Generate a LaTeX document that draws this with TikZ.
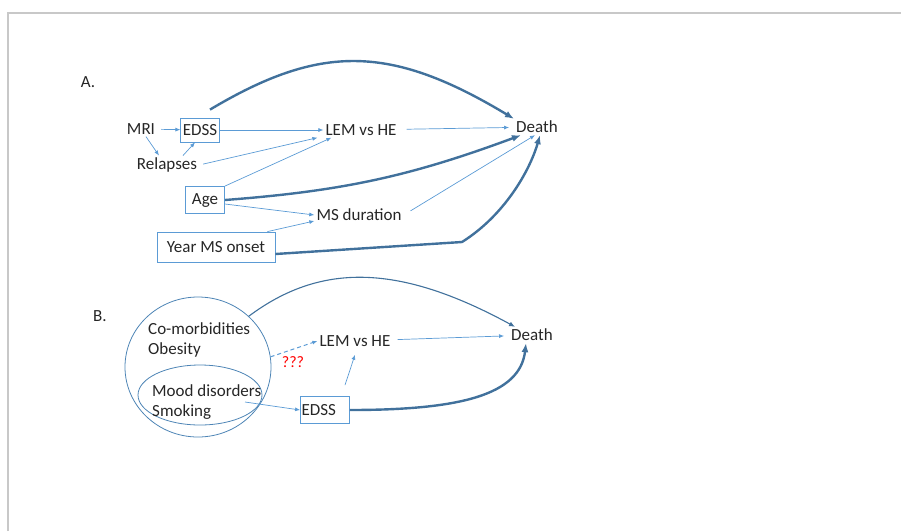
\documentclass[tikz,border=0pt]{standalone}
\usepackage{fontspec}
\setmainfont{Carlito}
\usetikzlibrary{arrows.meta,positioning,shapes.geometric,calc}
\definecolor{lineblue}{HTML}{5B9BD5}
\definecolor{deepblue}{HTML}{41719C}
\definecolor{framegray}{HTML}{C8C8C8}
\begin{document}
\begin{tikzpicture}[x=1pt, y=-1pt,
  font=\fontsize{17}{20}\selectfont, text=black!85,
  lbl/.style={inner sep=2pt, align=left},
  box/.style={draw=lineblue, line width=0.8pt, inner sep=2pt, minimum height=24pt},
  blob/.style={draw=lineblue!85!black, ellipse, line width=0.8pt, inner sep=0pt},
  arr/.style={draw=lineblue, line width=0.7pt, -{Latex[length=5pt,width=4pt]}},
  heavy/.style={draw=deepblue, line width=2.4pt, -{Latex[length=9pt,width=7pt]}},
  mid/.style={draw=deepblue, line width=1.1pt, -{Latex[length=6pt,width=5pt]}}]
  \useasboundingbox (0,0) rectangle (901,531);
  \draw[framegray, line width=2pt] (8,531) -- (8,12.5) -- (901,12.5);
  % A.
  \node[lbl] (tagA) at (88,82) {A.};
  \node[lbl] (mri) at (141,129) {MRI};
  \node[box, minimum width=38pt] (edssA) at (200,130) {EDSS};
  \node[lbl] (relapses) at (167,165) {Relapses};
  \node[lbl] (lemA) at (361,130) {LEM vs HE};
  \node[lbl] (deathA) at (537,127) {Death};
  \node[box, minimum width=39pt, minimum height=27pt] (age) at (205,200) {Age};
  \node[lbl] (msdur) at (359,215) {MS duration};
  \node[box, minimum width=118pt, minimum height=30pt] (onset) at (216,247) {Year MS onset};
  \coordinate (kink) at (462,242);
  \draw[arr, shorten <=4pt] (mri) -- (edssA);
  \draw[arr] ([xshift=5pt]mri.south) -- ([xshift=-8pt]relapses.north);
  \draw[arr] ([xshift=16pt]relapses.north) -- ([xshift=-5pt]edssA.south);
  \draw[arr] (edssA) -- (lemA);
  \draw[arr, shorten <=4pt] (relapses.east) -- ([xshift=-6pt]lemA.south west);
  \draw[arr] (age.north east) -- ([xshift=8pt]lemA.south west);
  \draw[arr, shorten <=8pt, shorten >=5pt] (lemA) -- (deathA);
  \draw[heavy] ([xshift=10pt,yshift=8pt]edssA.north) .. controls (320,44) and (390,44) .. (deathA.north west);
  \draw[heavy] (age.east) to[bend right=8] ([xshift=-16pt]deathA.south);
  \draw[arr] ([yshift=-4pt]age.east) -- (msdur.west);
  \draw[arr] ([xshift=-8pt]onset.north east) -- ([yshift=-6pt]msdur.west);
  \draw[arr, shorten <=8pt] (msdur.east) -- ([xshift=-2pt]deathA.south);
  \draw[heavy] ([yshift=-7pt]onset.east) -- (kink) .. controls (505,215) and (530,170) .. ([xshift=3pt]deathA.south);
  % B.
  \node[lbl] (tagB) at (100,316) {B.};
  \node[blob, minimum width=146pt, minimum height=140pt] (comorb) at (198,367) {};
  \node[blob, minimum width=124pt, minimum height=60pt] (mood) at (200,395) {};
  \node[lbl, anchor=west] (comorbtxt) at (146,340) {Co-morbidities\\Obesity};
  \node[lbl, anchor=west] (moodtxt) at (150,402) {Mood disorders\\Smoking};
  \node[lbl] (lemB) at (355,341) {LEM vs HE};
  \node[lbl] (deathB) at (532,335) {Death};
  \node[box, minimum width=49pt, minimum height=27pt, text width=47pt, inner xsep=1pt] (edssB) at (325,410) {EDSS};
  \node[text=red, font=\fontsize{16}{18}\selectfont] (qqq) at (293,362) {???};
  \coordinate (moodout) at (245,402);
  \draw[mid] (comorb.45) .. controls (320,263) and (398,263) .. ([xshift=6pt]deathB.north west);
  \draw[arr, dash pattern=on 4pt off 3pt, line width=1pt] (comorb.8) -- (lemB.west);
  \draw[arr, shorten <=5pt, shorten >=5pt] (lemB) -- (deathB);
  \draw[arr] (moodout) -- (edssB.west);
  \draw[arr] ([xshift=20pt,yshift=11pt]edssB.north) -- ([yshift=-6pt]lemB.south);
  \draw[heavy] (edssB.east) .. controls (460,410) and (520,395) .. ([xshift=-6pt]deathB.south);
\end{tikzpicture}
\end{document}
